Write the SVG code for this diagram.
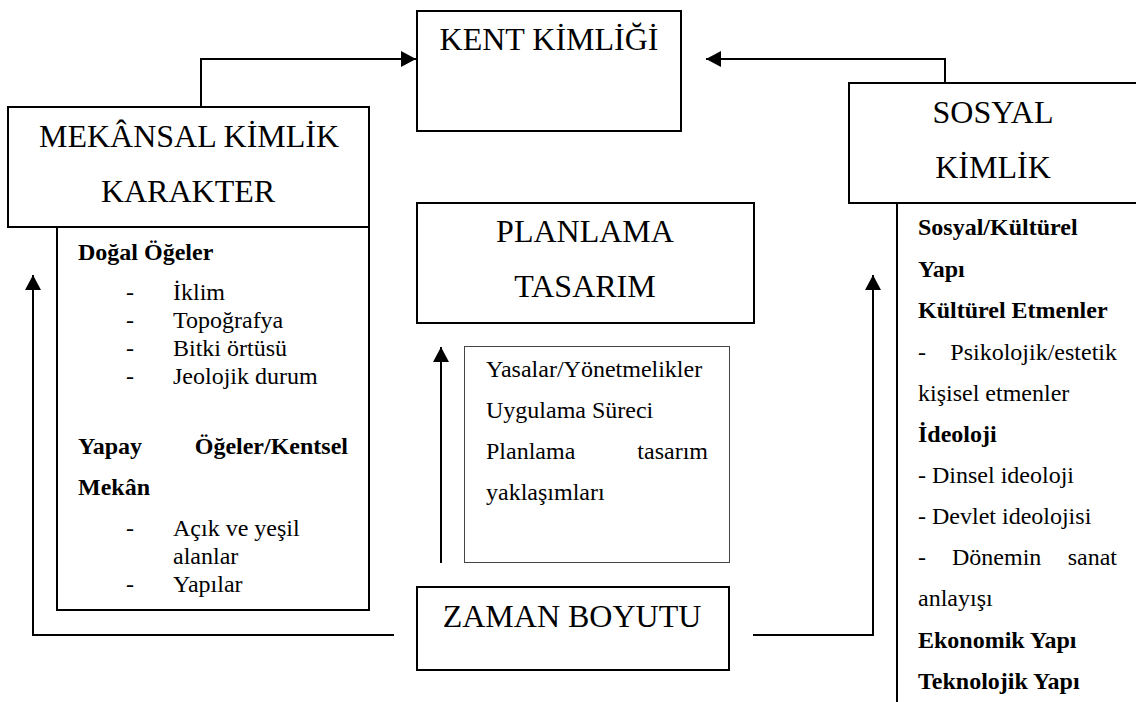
<svg xmlns="http://www.w3.org/2000/svg" width="1136" height="702" viewBox="0 0 1136 702">
<defs>
<marker id="arr" markerUnits="userSpaceOnUse" markerWidth="15" markerHeight="16" refX="15" refY="8" orient="auto">
<path d="M0,0 L15,8 L0,16 z" fill="#000"/>
</marker>
<style>
.box{fill:#fff;stroke:#000;stroke-width:2}
.thin{fill:#fff;stroke:#444;stroke-width:1}
.ln{fill:none;stroke:#000;stroke-width:2}
.t{font-family:"Liberation Serif","Times New Roman",serif;font-size:32px;fill:#000;text-anchor:middle}
.b{font-family:"Liberation Serif","Times New Roman",serif;font-size:24px;fill:#000}
.bb{font-family:"Liberation Serif","Times New Roman",serif;font-size:24px;font-weight:bold;fill:#000}
.e{text-anchor:end}
</style>
</defs>
<rect width="1136" height="702" fill="#fff"/>
<g id="connectors">
<path class="ln" d="M201,107 V59 H416" marker-end="url(#arr)"/>
<path class="ln" d="M945,83 V59 H706" marker-end="url(#arr)"/>
<path class="ln" d="M394,635 H33 V275" marker-end="url(#arr)"/>
<path class="ln" d="M753,635 H873 V275" marker-end="url(#arr)"/>
<path class="ln" d="M441,563 V347" marker-end="url(#arr)"/>
</g>
<g id="kent">
<rect class="box" x="417" y="11" width="264" height="120"/>
<text class="t" x="549" y="50">KENT KİMLİĞİ</text>
</g>
<g id="mekansal">
<rect class="box" x="8" y="107" width="361" height="120"/>
<text class="t" x="189" y="147">MEKÂNSAL KİMLİK</text>
<text class="t" x="188" y="202">KARAKTER</text>
</g>
<g id="mekansal-content">
<path class="ln" d="M57,227 V610 H369 V227"/>
<text class="bb" x="78" y="260">Doğal Öğeler</text>
<text class="b" x="126" y="300">-</text><text class="b" x="173" y="300">İklim</text>
<text class="b" x="126" y="328">-</text><text class="b" x="173" y="328">Topoğrafya</text>
<text class="b" x="126" y="356">-</text><text class="b" x="173" y="356">Bitki örtüsü</text>
<text class="b" x="126" y="384">-</text><text class="b" x="173" y="384">Jeolojik durum</text>
<text class="bb" x="78" y="454">Yapay</text>
<text class="bb e" x="348" y="454">Öğeler/Kentsel</text>
<text class="bb" x="78" y="495">Mekân</text>
<text class="b" x="126" y="536">-</text><text class="b" x="173" y="536">Açık ve yeşil</text>
<text class="b" x="173" y="564">alanlar</text>
<text class="b" x="126" y="592">-</text><text class="b" x="173" y="592">Yapılar</text>
</g>
<g id="planlama">
<rect class="box" x="417" y="203" width="337" height="120"/>
<text class="t" x="585" y="242">PLANLAMA</text>
<text class="t" x="585" y="297">TASARIM</text>
</g>
<g id="yasalar">
<rect class="thin" x="464.5" y="346.5" width="265" height="216"/>
<text class="b" x="486" y="377">Yasalar/Yönetmelikler</text>
<text class="b" x="486" y="418">Uygulama Süreci</text>
<text class="b" x="486" y="459">Planlama</text>
<text class="b e" x="708" y="459">tasarım</text>
<text class="b" x="486" y="500">yaklaşımları</text>
</g>
<g id="zaman">
<rect class="box" x="417" y="587" width="312" height="83"/>
<text class="t" x="572" y="627">ZAMAN BOYUTU</text>
</g>
<g id="sosyal">
<rect class="box" x="849" y="83" width="300" height="120"/>
<text class="t" x="993" y="123">SOSYAL</text>
<text class="t" x="993" y="178">KİMLİK</text>
</g>
<g id="sosyal-content">
<path class="ln" d="M897,203 V702"/>
<text class="bb" x="918" y="235">Sosyal/Kültürel</text>
<text class="bb" x="918" y="277">Yapı</text>
<text class="bb" x="918" y="318">Kültürel Etmenler</text>
<text class="b" x="918" y="360">-</text><text class="b e" x="1117" y="360">Psikolojik/estetik</text>
<text class="b" x="918" y="401">kişisel etmenler</text>
<text class="bb" x="918" y="442">İdeoloji</text>
<text class="b" x="918" y="483">- Dinsel ideoloji</text>
<text class="b" x="918" y="524">- Devlet ideolojisi</text>
<text class="b" x="918" y="565">-</text><text class="b" x="952" y="565">Dönemin</text><text class="b e" x="1117" y="565">sanat</text>
<text class="b" x="918" y="606">anlayışı</text>
<text class="bb" x="918" y="648">Ekonomik Yapı</text>
<text class="bb" x="918" y="689">Teknolojik Yapı</text>
</g>
</svg>
